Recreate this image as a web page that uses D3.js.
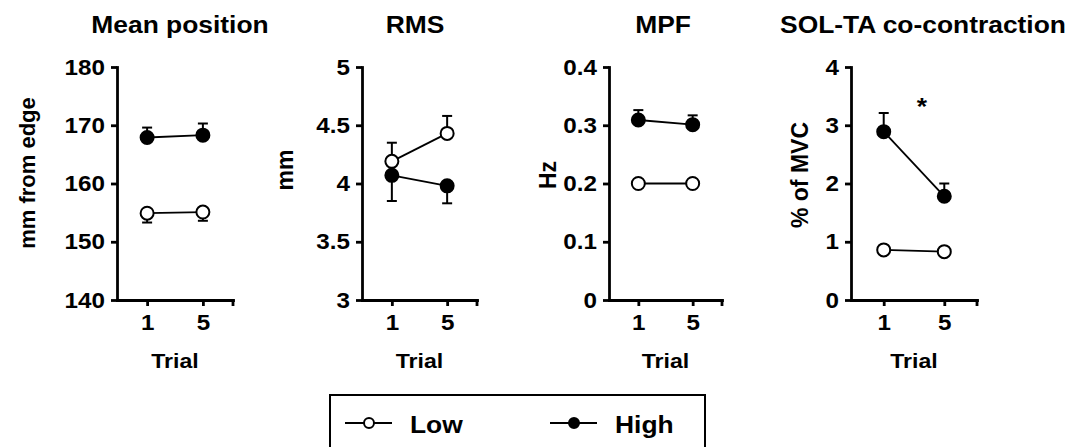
<!DOCTYPE html>
<html>
<head>
<meta charset="utf-8">
<script src="https://cdn.jsdelivr.net/npm/d3@7"></script>
<style>
  body { margin: 0; background: #fff; }
  text { font-family: "Liberation Sans", Arial, sans-serif; font-weight: bold; fill: #000; }
</style>
</head>
<body>
<svg id="chart" width="1083" height="447"></svg>
<script>
// data
var trials = ["1", "5"];
var titles = ["Mean position", "RMS", "MPF", "SOL-TA co-contraction"];
var yLabels = ["mm from edge", "mm", "Hz", "% of MVC"];
var yDomains = [[140, 180], [3, 5], [0, 0.4], [0, 4]];
var yTicks = [[140, 150, 160, 170, 180], [3, 3.5, 4, 4.5, 5], [0, 0.1, 0.2, 0.3, 0.4], [0, 1, 2, 3, 4]];
var lowMean = [[154.9, 155.1], [4.19, 4.43], [0.200, 0.200], [0.86, 0.83]];
var lowSE = [[1.6, 1.5], [0.16, 0.15], [0.004, 0.004], [0.05, 0.05]];
var highMean = [[167.9, 168.3], [4.07, 3.98], [0.309, 0.301], [2.89, 1.78]];
var highSE = [[1.7, 2.0], [0.22, 0.15], [0.017, 0.016], [0.32, 0.22]];
// which way the one-sided error bars point (1 = up, -1 = down)
var lowErrDir = [-1, 1, -1, -1];
var highErrDir = [1, -1, 1, 1];
var groups = ["Low", "High"];

// layout
var sx = 1.1; // the figure's text is drawn a little wide
var yTop = 67, yBottom = 300;
var axLeft = [117, 362, 609, 851],
    axRight = [233, 477, 722, 977];
var titleX = [180, 415, 663, 923];
var yLabX = [35, 293, 556, 808],
    yLabY = [173, 170, 175, 175];
var yLabSize = [22, 23, 23, 23];

var svg = d3.select("#chart");

function stretched(sel) {
  sel.attr("transform", "scale(" + sx + ",1)");
}

titles.forEach(function(title, i) {
  var x = d3.scalePoint().domain(trials).range([axLeft[i], axRight[i]]).padding(0.54);
  var y = d3.scaleLinear().domain(yDomains[i]).range([yBottom, yTop]);
  var g = svg.append("g");

  // axes
  var ya = g.append("g")
    .attr("transform", "translate(" + axLeft[i] + ",0)")
    .call(d3.axisLeft(y).tickValues(yTicks[i]).tickFormat(String)
      .tickSize(6).tickSizeOuter(0).tickPadding(5));
  var xa = g.append("g")
    .attr("transform", "translate(0," + yBottom + ")")
    .call(d3.axisBottom(x).tickSize(6).tickSizeOuter(0).tickPadding(8));
  xa.append("line")
    .attr("x1", axRight[i]).attr("x2", axRight[i])
    .attr("y1", 0).attr("y2", 6);

  [ya, xa].forEach(function(a) {
    a.selectAll("path, line").attr("stroke", "#000").attr("stroke-width", 2.8);
    a.select(".domain").attr("stroke-linecap", "square");
    a.selectAll("text")
      .style("font-size", "22px")
      .style("font-family", "'Liberation Sans', Arial, sans-serif")
      .style("font-weight", "bold")
      .attr("fill", "#000")
      .call(stretched);
  });

  // labels
  g.append("text")
    .attr("text-anchor", "middle")
    .attr("transform", "translate(" + titleX[i] + ",33) scale(" + sx + ",1)")
    .style("font-size", "24px")
    .text(title);

  g.append("text")
    .attr("text-anchor", "middle")
    .attr("transform", "translate(" + yLabX[i] + "," + yLabY[i] + ") rotate(-90)")
    .style("font-size", yLabSize[i] + "px")
    .text(yLabels[i]);

  var midX = (x(trials[0]) + x(trials[1])) / 2;
  g.append("text")
    .attr("text-anchor", "middle")
    .attr("transform", "translate(" + midX + ",368) scale(" + sx + ",1)")
    .style("font-size", "21px")
    .text("Trial");

  // series
  var series = [
    { means: lowMean[i], se: lowSE[i], dir: lowErrDir[i], fill: "#fff" },
    { means: highMean[i], se: highSE[i], dir: highErrDir[i], fill: "#000" }
  ];
  var line = d3.line().x(function(d, k) { return x(trials[k]); }).y(function(d) { return y(d); });

  series.forEach(function(s) {
    g.append("path")
      .attr("d", line(s.means))
      .attr("fill", "none")
      .attr("stroke", "#000")
      .attr("stroke-width", 1.8);

    s.means.forEach(function(m, k) {
      var cx = x(trials[k]);
      var end = y(m + s.dir * s.se[k]);
      g.append("line")
        .attr("x1", cx).attr("x2", cx)
        .attr("y1", y(m)).attr("y2", end)
        .attr("stroke", "#000").attr("stroke-width", 2);
      g.append("line")
        .attr("x1", cx - 5).attr("x2", cx + 5)
        .attr("y1", end).attr("y2", end)
        .attr("stroke", "#000").attr("stroke-width", 2);
    });

    g.selectAll(null)
      .data(s.means)
      .enter().append("circle")
      .attr("cx", function(d, k) { return x(trials[k]); })
      .attr("cy", function(d) { return y(d); })
      .attr("r", 6.5)
      .attr("fill", s.fill)
      .attr("stroke", "#000")
      .attr("stroke-width", 2);
  });

  if (i === 3) {
    g.append("text")
      .attr("text-anchor", "middle")
      .attr("transform", "translate(922,115) scale(" + sx + ",1)")
      .style("font-size", "24px")
      .text("*");
  }
});

// legend
var legend = svg.append("g");
legend.append("rect")
  .attr("x", 330).attr("y", 395)
  .attr("width", 375).attr("height", 70)
  .attr("fill", "none")
  .attr("stroke", "#000")
  .attr("stroke-width", 2);

var legX = [345, 550];
groups.forEach(function(name, k) {
  var lg = legend.append("g").attr("transform", "translate(" + legX[k] + ",423)");
  lg.append("line")
    .attr("x1", 0).attr("x2", 47)
    .attr("stroke", "#000").attr("stroke-width", 2);
  lg.append("circle")
    .attr("cx", 24).attr("r", 5)
    .attr("fill", k === 0 ? "#fff" : "#000")
    .attr("stroke", "#000").attr("stroke-width", 2);
  lg.append("text")
    .attr("transform", "translate(65,10) scale(" + sx + ",1)")
    .style("font-size", "24px")
    .text(name);
});
</script>
</body>
</html>
